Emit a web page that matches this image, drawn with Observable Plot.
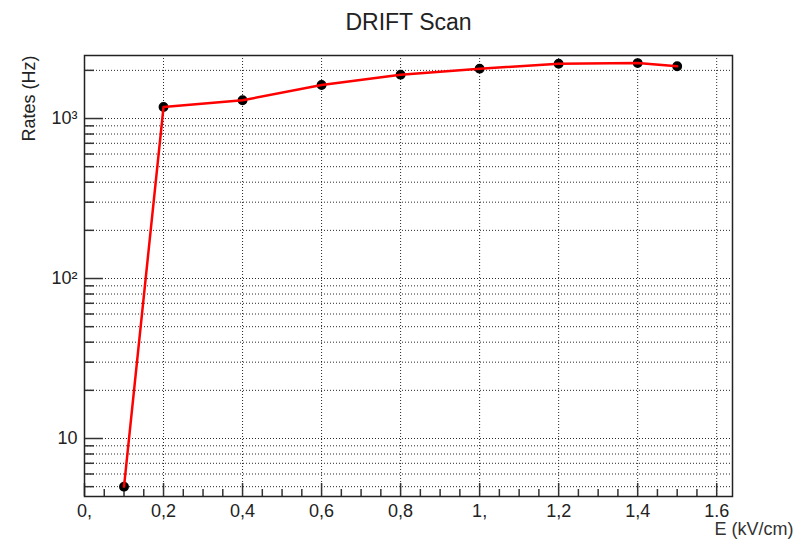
<!DOCTYPE html>
<html>
<head>
<meta charset="utf-8">
<script src="https://cdn.jsdelivr.net/npm/d3@7"></script>
<script src="https://cdn.jsdelivr.net/npm/@observablehq/plot@0.6"></script>
<style>
  html, body { margin: 0; padding: 0; background: #fff; }
  #chart svg { display: block; font-family: "Liberation Sans", Arial, Helvetica, sans-serif; }
</style>
</head>
<body>
<div id="chart"></div>
<script>
// Drift field scan: measured rate vs. drift field
const fieldKVcm = [0.1, 0.2, 0.4, 0.6, 0.8, 1.0, 1.2, 1.4, 1.5];
const ratesHz   = [5, 1180, 1300, 1620, 1880, 2050, 2200, 2220, 2120];

// Axis ticks and their labels
const xTicks      = [0, 0.2, 0.4, 0.6, 0.8, 1.0, 1.2, 1.4, 1.6];
const xTickLabels = ["0,", "0,2", "0,4", "0,6", "0,8", "1,", "1,2", "1,4", "1.6"];
const yDecades      = [10, 100, 1000];
const yDecadeLabels = ["10", "10²", "10³"];

const xDomain = [0, 1.64];
const yDomain = [4.34, 2477];

// minor ticks: every 0.05 on x, 2..9 within each decade on y
const xMinor = d3.range(0, 1.6001, 0.05).filter(v => !xTicks.some(t => Math.abs(t - v) < 1e-9));
const yMinor = [1, 10, 100, 1000].flatMap(d => [2,3,4,5,6,7,8,9].map(m => d * m))
  .filter(v => v >= yDomain[0] && v <= yDomain[1]);
const yGrid = [...yMinor, ...yDecades].sort((a, b) => a - b);
const xGrid = xTicks.filter(t => t > 0);

const width = 797, height = 540;
const margin = {top: 55, right: 65, bottom: 44, left: 84};
const innerW = width - margin.left - margin.right;
const innerH = height - margin.top - margin.bottom;

const points = fieldKVcm.map((x, i) => ({x, y: ratesHz[i]}));

const chart = Plot.plot({
  width, height,
  marginTop: margin.top, marginRight: margin.right,
  marginBottom: margin.bottom, marginLeft: margin.left,
  style: {fontFamily: '"Liberation Sans", Arial, Helvetica, sans-serif', color: "#222", background: "#fff"},
  x: {domain: xDomain},
  y: {type: "log", domain: yDomain},
  marks: [
    // dotted grid
    Plot.ruleY(yGrid, {y: d => d, stroke: "#000", strokeWidth: 1, strokeDasharray: "1,2", strokeOpacity: 0.85}),
    Plot.ruleX(xGrid, {x: d => d, stroke: "#000", strokeWidth: 1, strokeDasharray: "1,2", strokeOpacity: 0.85}),
    // inward tick marks
    Plot.tickY(yDecades, {y: d => d, insetRight: innerW - 19, stroke: "#333", strokeWidth: 1.5}),
    Plot.tickY(yMinor, {y: d => d, insetRight: innerW - 10, stroke: "#333", strokeWidth: 1.5}),
    Plot.tickX(xTicks, {x: d => d, insetTop: innerH - 13, stroke: "#333", strokeWidth: 1.5}),
    Plot.tickX(xMinor, {x: d => d, insetTop: innerH - 7, stroke: "#333", strokeWidth: 1.5}),
    Plot.frame({stroke: "#222", strokeWidth: 1.5}),
    // axis labels
    Plot.axisX(xTicks, {tickSize: 0, tickPadding: 8, fontSize: 18, fill: "#222",
      tickFormat: d => xTickLabels[xTicks.indexOf(d)], label: null}),
    Plot.axisY(yDecades, {tickSize: 0, tickPadding: 7, fontSize: 18, fill: "#222",
      tickFormat: d => yDecadeLabels[yDecades.indexOf(d)], label: null}),
    // data
    Plot.dot(points, {x: "x", y: "y", r: 4.2, fill: "#000", stroke: "#000"}),
    Plot.line(points, {x: "x", y: "y", stroke: "#ff0000", strokeWidth: 2.5}),
    // titles
    Plot.text(["DRIFT Scan"], {frameAnchor: "top", dy: -42, fontSize: 23, fill: "#222"}),
    Plot.text(["Rates (Hz)"], {frameAnchor: "top-left", dx: -62, rotate: -90, textAnchor: "end", fontSize: 18, fill: "#222"}),
    Plot.text(["E (kV/cm)"], {frameAnchor: "bottom-right", dx: 61, dy: 33, lineAnchor: "middle", textAnchor: "end", fontSize: 18, fill: "#333"})
  ]
});

document.getElementById("chart").append(chart);
</script>
</body>
</html>
